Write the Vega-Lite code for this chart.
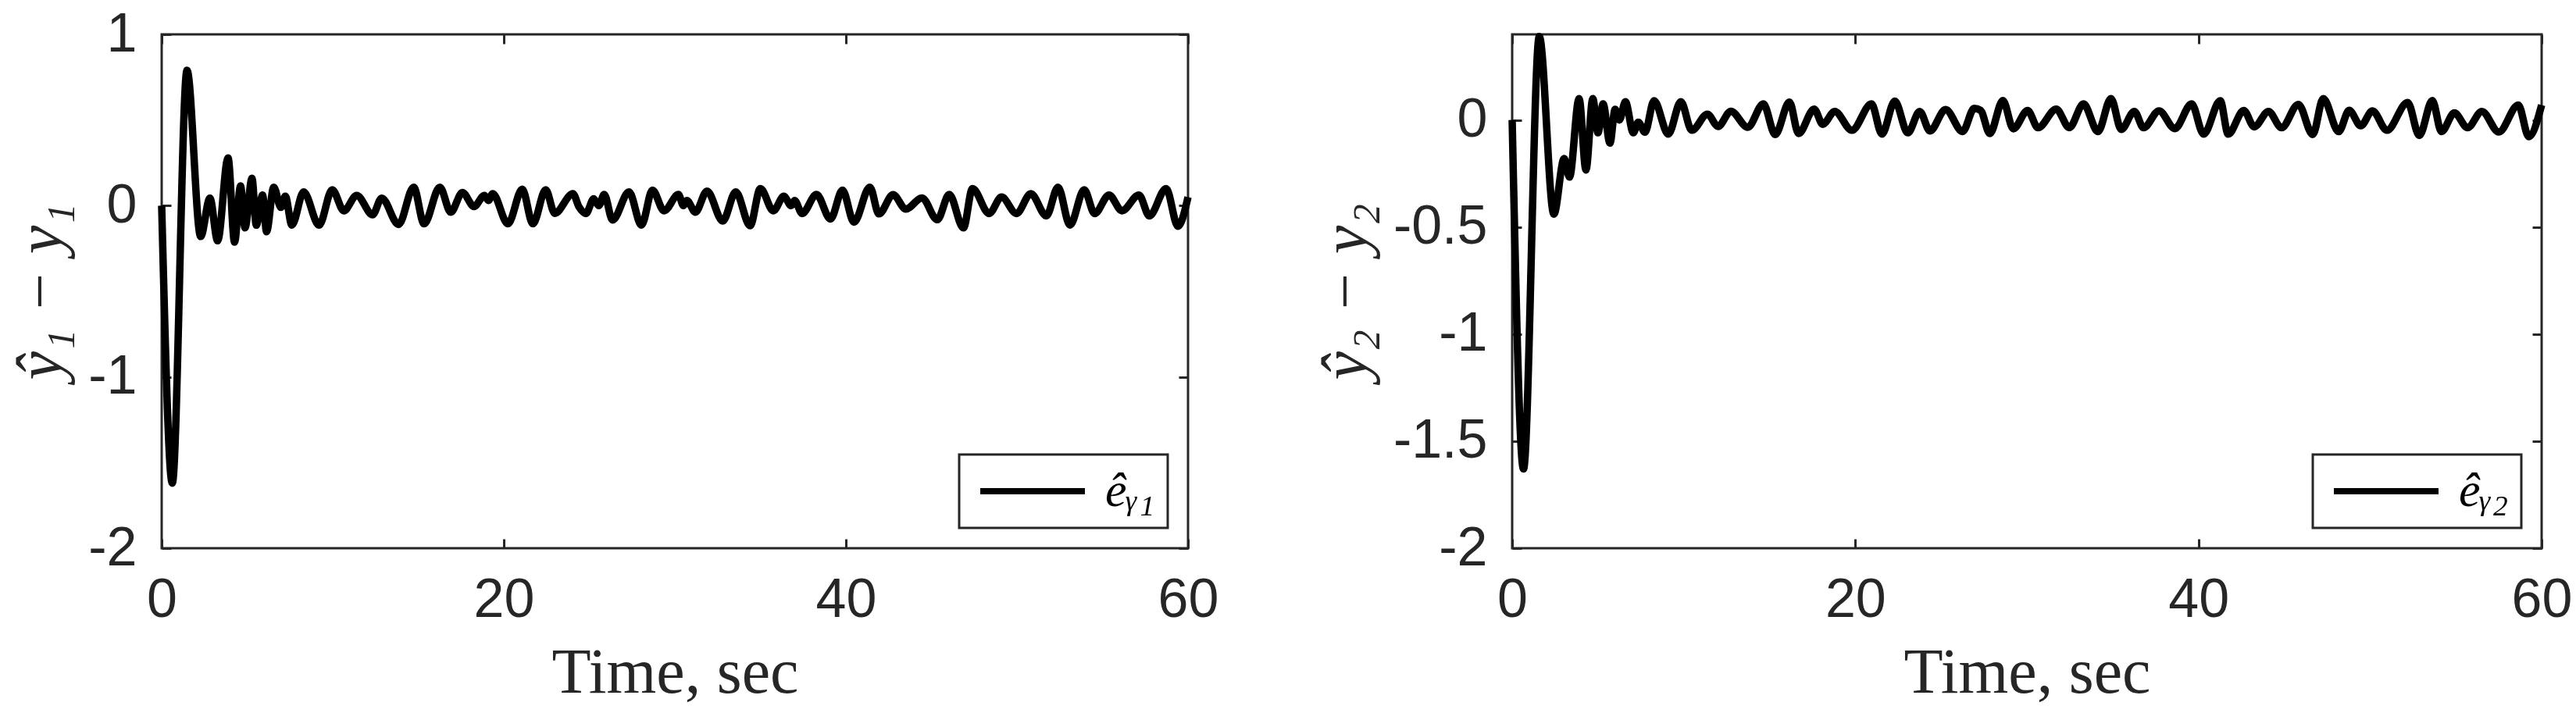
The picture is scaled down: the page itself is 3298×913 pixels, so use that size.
{
  "$schema": "https://vega.github.io/schema/vega-lite/v6.json",
  "background": "white",
  "padding": {"left": 10, "top": 7, "right": 4, "bottom": 5},
  "datasets": {
    "e1": [
      {"t":0,"v":0},{"t":0.62,"v":-1.62},{"t":1.48,"v":0.79},{"t":2.28,"v":-0.18},{"t":2.82,"v":0.044},{"t":3.27,"v":-0.205},{"t":3.88,"v":0.278},{"t":4.26,"v":-0.213},{"t":4.61,"v":0.115},{"t":4.87,"v":-0.13},{"t":5.28,"v":0.16},{"t":5.53,"v":-0.114},{"t":5.9,"v":0.062},{"t":6.13,"v":-0.152},{"t":6.55,"v":0.108},{"t":6.97,"v":-0.01},{"t":7.23,"v":0.055},{"t":7.61,"v":-0.114},{"t":8.3,"v":0.08},{"t":9.2,"v":-0.114},{"t":9.97,"v":0.093},{"t":10.65,"v":-0.03},{"t":11.4,"v":0.06},{"t":12.33,"v":-0.053},{"t":12.86,"v":0.044},{"t":13.85,"v":-0.11},{"t":14.73,"v":0.108},{"t":15.34,"v":-0.106},{"t":16.26,"v":0.108},{"t":16.9,"v":-0.038},{"t":17.58,"v":0.077},{"t":18.26,"v":-0.005},{"t":18.87,"v":0.06},{"t":19.1,"v":0.03},{"t":19.35,"v":0.07},{"t":20.24,"v":-0.106},{"t":21.08,"v":0.096},{"t":21.7,"v":-0.106},{"t":22.45,"v":0.093},{"t":22.98,"v":-0.045},{"t":24.04,"v":0.07},{"t":24.4,"v":-0.008},{"t":24.8,"v":-0.046},{"t":25.26,"v":0.04},{"t":25.55,"v":0.0},{"t":25.87,"v":0.065},{"t":26.36,"v":-0.084},{"t":27.32,"v":0.08},{"t":28.05,"v":-0.114},{"t":28.69,"v":0.09},{"t":29.37,"v":-0.03},{"t":30.21,"v":0.065},{"t":30.5,"v":0.0},{"t":30.7,"v":0.03},{"t":31.2,"v":-0.038},{"t":31.88,"v":0.085},{"t":32.8,"v":-0.09},{"t":33.56,"v":0.08},{"t":34.4,"v":-0.117},{"t":35.0,"v":0.1},{"t":35.76,"v":-0.03},{"t":36.37,"v":0.055},{"t":36.8,"v":0.0},{"t":37.0,"v":0.03},{"t":37.44,"v":-0.046},{"t":38.28,"v":0.065},{"t":39.1,"v":-0.078},{"t":39.8,"v":0.09},{"t":40.47,"v":-0.096},{"t":41.4,"v":0.108},{"t":41.93,"v":-0.048},{"t":42.76,"v":0.064},{"t":43.5,"v":-0.02},{"t":44.45,"v":0.045},{"t":45.34,"v":-0.082},{"t":46.04,"v":0.065},{"t":46.87,"v":-0.13},{"t":47.4,"v":0.1},{"t":48.37,"v":-0.046},{"t":49.1,"v":0.05},{"t":49.97,"v":-0.046},{"t":50.81,"v":0.07},{"t":51.72,"v":-0.06},{"t":52.4,"v":0.108},{"t":53.1,"v":-0.114},{"t":53.93,"v":0.093},{"t":54.54,"v":-0.046},{"t":55.38,"v":0.062},{"t":56.14,"v":-0.03},{"t":57.13,"v":0.062},{"t":57.74,"v":-0.06},{"t":58.72,"v":0.1},{"t":59.41,"v":-0.12},{"t":60,"v":0.05}
    ],
    "e2": [
      {"t":0,"v":0},{"t":0.66,"v":-1.63},{"t":1.58,"v":0.39},{"t":2.43,"v":-0.44},{"t":3.03,"v":-0.18},{"t":3.34,"v":-0.267},{"t":3.9,"v":0.1},{"t":4.3,"v":-0.234},{"t":4.7,"v":0.1},{"t":5.0,"v":-0.06},{"t":5.3,"v":0.075},{"t":5.7,"v":-0.108},{"t":6.0,"v":0.05},{"t":6.25,"v":0.0},{"t":6.6,"v":0.085},{"t":7.06,"v":-0.06},{"t":7.35,"v":-0.01},{"t":7.74,"v":-0.057},{"t":8.27,"v":0.09},{"t":9.1,"v":-0.066},{"t":9.83,"v":0.085},{"t":10.47,"v":-0.048},{"t":11.38,"v":0.027},{"t":12.0,"v":-0.03},{"t":12.75,"v":0.041},{"t":13.73,"v":-0.034},{"t":14.64,"v":0.075},{"t":15.33,"v":-0.068},{"t":16.16,"v":0.084},{"t":16.69,"v":-0.063},{"t":17.6,"v":0.051},{"t":18.1,"v":-0.02},{"t":18.8,"v":0.04},{"t":19.8,"v":-0.048},{"t":20.94,"v":0.075},{"t":21.55,"v":-0.066},{"t":22.3,"v":0.088},{"t":23.06,"v":-0.06},{"t":23.75,"v":0.04},{"t":24.35,"v":-0.051},{"t":25.26,"v":0.049},{"t":26.25,"v":-0.054},{"t":26.93,"v":0.054},{"t":27.3,"v":0.045},{"t":27.84,"v":-0.063},{"t":28.6,"v":0.091},{"t":29.21,"v":-0.041},{"t":30.04,"v":0.044},{"t":30.65,"v":-0.036},{"t":31.71,"v":0.051},{"t":32.47,"v":-0.036},{"t":33.3,"v":0.075},{"t":34.14,"v":-0.054},{"t":34.9,"v":0.1},{"t":35.5,"v":-0.044},{"t":36.26,"v":0.04},{"t":36.8,"v":-0.036},{"t":37.7,"v":0.043},{"t":38.62,"v":-0.04},{"t":39.6,"v":0.075},{"t":40.3,"v":-0.066},{"t":41.27,"v":0.09},{"t":41.73,"v":-0.066},{"t":42.64,"v":0.044},{"t":43.25,"v":-0.032},{"t":44.08,"v":0.04},{"t":44.84,"v":-0.036},{"t":45.82,"v":0.073},{"t":46.66,"v":-0.068},{"t":47.27,"v":0.1},{"t":48.17,"v":-0.054},{"t":48.78,"v":0.045},{"t":49.46,"v":-0.027},{"t":50.14,"v":0.043},{"t":50.98,"v":-0.048},{"t":52.19,"v":0.082},{"t":52.87,"v":-0.072},{"t":53.63,"v":0.091},{"t":54.16,"v":-0.054},{"t":54.92,"v":0.033},{"t":55.68,"v":-0.036},{"t":56.52,"v":0.04},{"t":57.5,"v":-0.056},{"t":58.64,"v":0.07},{"t":59.25,"v":-0.078},{"t":60,"v":0.07}
    ]
  },
  "spacing": 118,
  "hconcat": [
    {
      "width": 1314,
      "height": 658,
      "resolve": {"axis": {"x": "independent", "y": "independent"}},
      "layer": [
        {
          "mark": {"type": "rule", "strokeDash": [6, 8], "strokeWidth": 4, "color": "black"},
          "encoding": {
            "x": {"datum": 0, "type": "quantitative", "scale": {"domain": [0, 60], "nice": false}, "axis": {"orient": "top", "labels": false, "title": null, "values": [0, 20, 40, 60]}},
            "x2": {"datum": 60},
            "y": {"datum": 0, "type": "quantitative", "scale": {"domain": [-2, 1], "nice": false}, "axis": {"orient": "right", "labels": false, "title": null, "values": [-2, -1, 0, 1]}}
          }
        },
        {
          "data": {"name": "e1"},
          "mark": {"type": "line", "interpolate": "monotone", "strokeWidth": 9.5, "clip": false},
          "encoding": {
            "x": {"field": "t", "type": "quantitative", "scale": {"domain": [0, 60], "nice": false}, "axis": {"orient": "bottom", "values": [0, 20, 40, 60], "title": "Time, sec"}},
            "y": {"field": "v", "type": "quantitative", "scale": {"domain": [-2, 1], "nice": false}, "axis": {"orient": "left", "values": [-2, -1, 0, 1], "title": "ŷ₁ − y₁", "titleFontStyle": "italic"}},
            "color": {"datum": "ê", "type": "nominal", "scale": {"range": ["black"]}, "legend": {"labelExpr": "'êᵧ₁'"}}
          }
        }
      ]
    },
    {
      "width": 1318,
      "height": 658,
      "resolve": {"axis": {"x": "independent", "y": "independent"}},
      "layer": [
        {
          "mark": {"type": "rule", "strokeDash": [6, 8], "strokeWidth": 4, "color": "black"},
          "encoding": {
            "x": {"datum": 0, "type": "quantitative", "scale": {"domain": [0, 60], "nice": false}, "axis": {"orient": "top", "labels": false, "title": null, "values": [0, 20, 40, 60]}},
            "x2": {"datum": 60},
            "y": {"datum": 0, "type": "quantitative", "scale": {"domain": [-2, 0.4], "nice": false}, "axis": {"orient": "right", "labels": false, "title": null, "values": [-2, -1.5, -1, -0.5, 0]}}
          }
        },
        {
          "data": {"name": "e2"},
          "mark": {"type": "line", "interpolate": "monotone", "strokeWidth": 9.5, "clip": false},
          "encoding": {
            "x": {"field": "t", "type": "quantitative", "scale": {"domain": [0, 60], "nice": false}, "axis": {"orient": "bottom", "values": [0, 20, 40, 60], "title": "Time, sec"}},
            "y": {"field": "v", "type": "quantitative", "scale": {"domain": [-2, 0.4], "nice": false}, "axis": {"orient": "left", "values": [-2, -1.5, -1, -0.5, 0], "format": "~g", "title": "ŷ₂ − y₂", "titleFontStyle": "italic"}},
            "color": {"datum": "ê2", "type": "nominal", "scale": {"range": ["black"]}, "legend": {"labelExpr": "'êᵧ₂'"}}
          }
        }
      ]
    }
  ],
  "resolve": {"scale": {"color": "independent"}, "legend": {"color": "independent"}},
  "config": {
    "view": {"stroke": "#262626", "strokeWidth": 3},
    "axis": {
      "labelFont": "Liberation Sans",
      "labelFontSize": 70,
      "labelColor": "#262626",
      "labelExpr": "replace(datum.label, '−', '-')",
      "labelFlush": false,
      "domain": false,
      "grid": false,
      "tickColor": "#262626",
      "tickWidth": 3,
      "tickSize": -12,
      "labelPadding": 44,
      "titleFont": "Liberation Serif",
      "titleFontSize": 82,
      "titleFontWeight": "normal",
      "titleColor": "#262626",
      "titlePadding": 18
    },
    "legend": {
      "orient": "bottom-right",
      "offset": 26,
      "title": null,
      "strokeColor": "#262626",
      "strokeWidth": 3,
      "fillColor": "white",
      "padding": 16,
      "symbolType": "M-1,0H5.7",
      "symbolSize": 1600,
      "symbolStrokeWidth": 8,
      "labelFont": "Liberation Serif",
      "labelFontSize": 62,
      "labelFontStyle": "italic",
      "labelColor": "black",
      "labelOffset": 109
    }
  }
}
